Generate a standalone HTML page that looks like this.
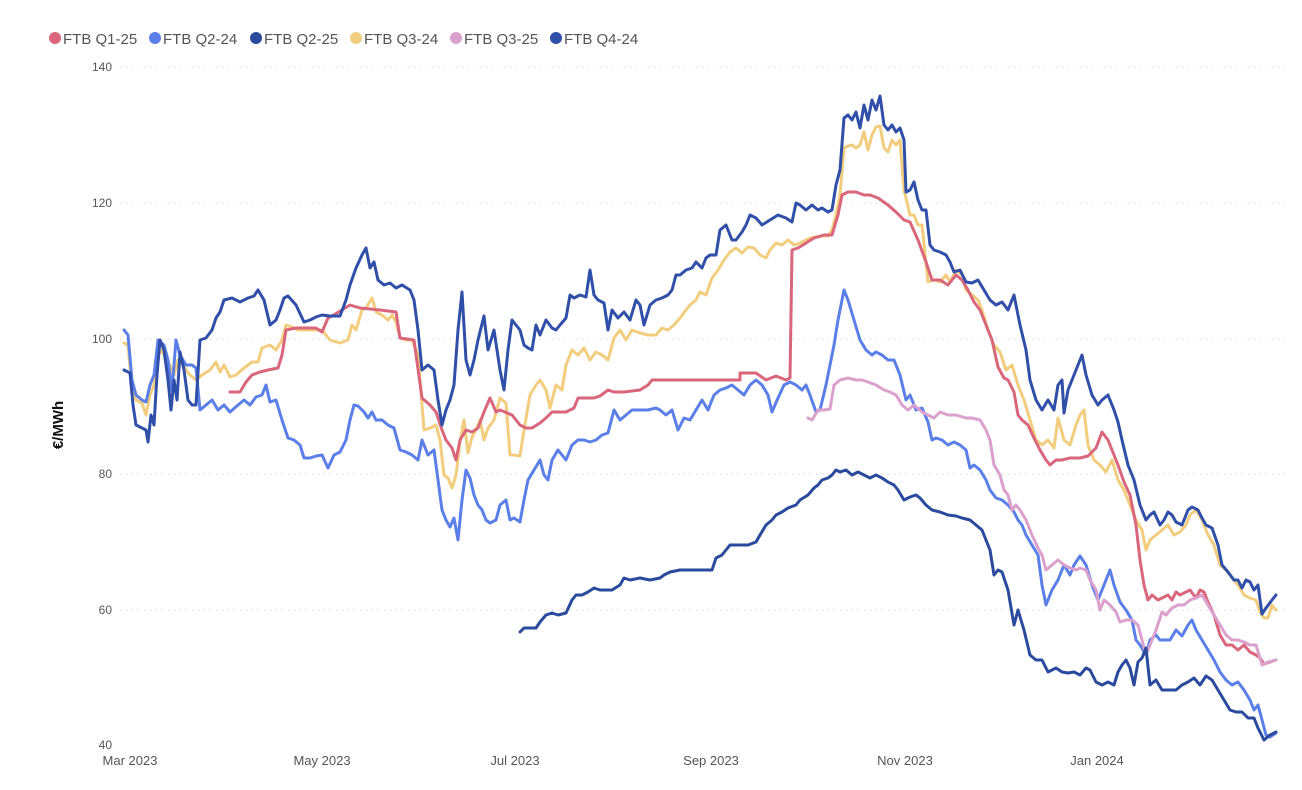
<!DOCTYPE html>
<html><head><meta charset="utf-8"><style>
body{margin:0;background:#fff;}
svg{display:block;font-family:"Segoe UI","Liberation Sans",sans-serif;}
</style></head><body>
<svg width="1302" height="790" viewBox="0 0 1302 790" xmlns="http://www.w3.org/2000/svg">
<g font-size="15" fill="#555">
<circle cx="55" cy="38" r="6" fill="#D9667A"/><text x="63" y="44">FTB Q1-25</text>
<circle cx="155" cy="38" r="6" fill="#5B7FE8"/><text x="163" y="44">FTB Q2-24</text>
<circle cx="256" cy="38" r="6" fill="#2A4A9E"/><text x="264" y="44">FTB Q2-25</text>
<circle cx="356" cy="38" r="6" fill="#F3CD7E"/><text x="364" y="44">FTB Q3-24</text>
<circle cx="456" cy="38" r="6" fill="#DBA0CC"/><text x="464" y="44">FTB Q3-25</text>
<circle cx="556" cy="38" r="6" fill="#2F4FA8"/><text x="564" y="44">FTB Q4-24</text>
</g>
<g stroke="#ccc" stroke-dasharray="1,5" stroke-width="1">
<line x1="120" x2="1285" y1="67" y2="67"/><line x1="120" x2="1285" y1="203" y2="203"/>
<line x1="120" x2="1285" y1="339" y2="339"/><line x1="120" x2="1285" y1="474" y2="474"/>
<line x1="120" x2="1285" y1="610" y2="610"/>
</g>
<g font-size="12" fill="#555" text-anchor="end">
<text x="112" y="71">140</text><text x="112" y="207">120</text><text x="112" y="343">100</text>
<text x="112" y="478">80</text><text x="112" y="614">60</text><text x="112" y="749">40</text>
</g>
<text transform="translate(63,425) rotate(-90)" font-size="15" font-weight="bold" text-anchor="middle" fill="#111">€/MWh</text>
<g font-size="13" fill="#555" text-anchor="middle">
<text x="130" y="765">Mar 2023</text><text x="322" y="765">May 2023</text><text x="515" y="765">Jul 2023</text>
<text x="711" y="765">Sep 2023</text><text x="905" y="765">Nov 2023</text><text x="1097" y="765">Jan 2024</text>
</g>
<g fill="none" stroke-width="3" stroke-linejoin="round" stroke-linecap="round">
<polyline stroke="#F3CD7E" points="124,343 128,345 132,390 136,400 142,403 146,415 150,395 154,385 158,355 162,350 166,360 170,365 174,375 178,360 182,360 186,370 190,375 196,380 202,375 210,370 216,362 220,372 224,365 230,377 236,375 244,368 252,362 258,362 262,348 270,345 276,350 282,340 286,325 292,327 298,330 304,330 310,330 316,330 322,330 330,340 340,343 348,340 352,325 356,330 362,310 366,308 372,298 376,312 382,315 388,320 392,315 396,322 400,338 406,340 412,340 418,355 424,430 430,428 436,425 440,440 444,475 448,478 452,488 456,475 460,442 464,420 468,453 472,437 476,430 480,420 484,440 488,428 494,420 500,398 506,403 510,455 514,455 520,456 524,430 530,395 536,385 540,380 546,390 550,408 556,385 562,390 566,365 572,350 578,355 584,348 590,360 596,352 602,355 608,360 614,338 620,330 626,340 632,330 640,333 648,335 656,335 662,328 668,330 674,325 680,318 686,310 690,305 696,300 700,292 706,295 712,278 718,270 724,260 730,252 736,248 742,253 748,247 754,248 760,255 766,258 770,250 776,243 782,245 788,240 794,245 800,243 806,240 810,238 816,237 822,236 828,236 832,230 836,215 840,195 844,148 848,146 852,145 856,148 860,145 864,132 868,150 872,135 876,127 880,126 884,148 888,152 892,140 896,145 900,140 904,190 910,215 914,215 918,225 922,225 928,282 934,280 940,282 946,275 950,282 956,270 962,275 966,290 972,295 978,300 982,310 988,330 994,345 1000,352 1006,370 1012,365 1018,385 1024,400 1030,420 1036,440 1042,445 1048,440 1054,448 1058,418 1064,440 1070,445 1076,425 1080,415 1084,410 1088,445 1094,460 1100,465 1106,472 1112,460 1118,480 1124,490 1130,505 1136,520 1142,530 1146,550 1150,540 1156,535 1162,530 1168,525 1174,535 1180,532 1186,525 1190,515 1196,510 1202,520 1208,535 1214,545 1220,565 1226,570 1232,578 1238,585 1244,595 1250,598 1256,600 1260,612 1264,618 1268,618 1272,605 1276,610"/>
<polyline stroke="#D9667A" points="230,392 240,392 246,382 252,375 260,372 268,370 278,368 282,355 286,330 296,328 306,328 316,328 322,332 328,318 332,316 350,305 360,308 380,310 396,312 400,338 414,340 422,398 430,405 436,412 442,430 446,440 452,448 456,460 460,440 466,430 472,432 478,428 484,412 490,398 496,412 500,410 512,415 520,425 526,428 532,428 540,423 546,418 552,412 566,412 574,408 578,398 594,398 600,396 608,390 614,392 624,392 640,390 648,385 652,380 660,380 740,380 740,373 756,373 766,380 776,376 786,380 790,378 792,250 798,248 806,243 814,238 824,235 832,235 838,215 842,195 848,192 856,192 864,195 870,195 878,198 888,205 896,212 904,220 910,222 918,240 926,262 932,280 940,280 948,285 956,275 962,280 968,290 974,302 980,310 986,325 992,340 998,367 1004,378 1008,380 1014,392 1018,415 1022,420 1028,425 1034,438 1040,450 1046,460 1050,465 1056,460 1062,460 1070,458 1080,458 1088,456 1096,448 1102,432 1108,440 1114,455 1118,465 1124,482 1130,495 1136,525 1140,560 1144,585 1148,600 1152,595 1158,600 1162,598 1168,595 1172,600 1176,592 1180,595 1186,592 1190,590 1196,598 1200,590 1204,592 1208,602 1214,615 1220,635 1226,645 1232,645 1238,650 1244,645 1250,652 1256,655 1260,658 1264,664 1270,662 1276,660"/>
<polyline stroke="#5B7FE8" points="124,330 128,335 132,380 136,395 142,400 146,402 150,385 154,375 158,340 164,345 168,360 172,390 176,340 180,355 186,365 192,365 196,368 200,410 206,405 212,400 218,410 224,405 230,412 238,405 244,400 250,405 256,397 262,395 266,385 270,402 276,400 282,420 288,438 294,440 300,445 304,458 310,458 316,456 322,455 328,468 334,455 340,452 346,440 350,420 354,405 358,406 364,412 368,418 372,412 376,420 382,420 388,425 394,428 400,450 406,452 412,455 418,460 422,440 428,455 434,450 438,480 442,510 446,520 450,527 454,518 458,540 462,500 466,470 470,478 474,495 478,505 482,510 486,520 490,523 496,520 500,505 506,500 510,520 514,518 520,522 524,500 528,480 534,470 540,460 544,475 548,480 552,460 558,450 566,460 572,445 578,440 584,440 590,442 596,440 602,435 608,433 614,410 620,420 626,415 632,410 640,410 648,410 656,408 660,410 666,415 672,410 678,430 684,418 690,420 696,410 702,400 708,410 714,395 720,390 726,388 732,385 738,390 744,395 750,385 756,380 762,385 768,395 772,412 778,398 784,385 790,382 796,385 802,390 806,385 810,395 816,412 820,410 826,385 830,365 834,345 838,320 844,290 848,300 854,320 860,340 866,350 872,355 876,352 882,355 888,360 894,360 900,375 906,400 910,395 916,410 922,408 928,422 932,440 936,438 942,440 948,445 954,442 960,445 966,450 970,468 974,465 980,470 986,480 990,490 996,498 1002,500 1008,505 1014,512 1018,520 1022,525 1026,535 1032,545 1038,555 1042,585 1046,605 1052,590 1058,580 1064,565 1070,575 1074,565 1080,556 1086,565 1092,585 1098,600 1102,590 1106,580 1110,570 1114,585 1120,602 1126,610 1132,620 1136,640 1140,645 1146,655 1150,640 1156,635 1160,640 1166,640 1170,640 1176,630 1182,636 1188,625 1192,620 1196,630 1202,640 1208,650 1214,660 1220,672 1226,680 1232,685 1238,682 1244,690 1250,700 1254,710 1258,705 1262,720 1266,735 1270,737 1276,733"/>
<polyline stroke="#DBA0CC" points="808,418 812,420 818,410 824,410 830,409 834,385 840,380 848,378 856,380 862,380 868,382 876,385 884,390 890,392 896,395 902,405 908,410 914,405 922,412 928,415 934,418 940,412 948,415 956,415 966,418 972,418 980,420 986,430 990,440 994,465 1000,475 1004,490 1008,495 1012,510 1016,505 1020,510 1026,520 1032,535 1038,548 1042,555 1046,570 1052,565 1058,560 1064,565 1070,568 1076,570 1080,568 1086,570 1090,580 1096,590 1100,610 1104,600 1110,605 1116,612 1120,622 1126,620 1132,620 1138,625 1142,640 1146,655 1150,645 1156,630 1162,612 1166,615 1172,608 1178,605 1184,605 1190,600 1196,598 1202,595 1208,605 1214,615 1220,625 1226,635 1232,640 1238,640 1244,642 1250,645 1256,645 1262,665 1268,662 1276,660"/>
<polyline stroke="#2A4A9E" points="520,632 524,628 530,628 536,628 540,622 546,615 552,613 558,615 566,613 572,600 576,595 582,595 588,592 594,588 600,590 612,590 620,585 624,578 630,580 640,578 650,580 660,578 664,575 670,572 680,570 712,570 716,558 722,555 730,545 748,545 756,542 760,535 766,525 772,520 776,515 782,512 788,508 796,505 800,500 808,495 814,488 818,485 822,480 828,478 832,475 836,470 840,472 846,470 852,475 858,472 864,475 870,478 876,475 882,478 888,482 894,485 898,490 904,500 910,497 916,495 920,498 926,505 932,510 940,512 948,515 956,516 962,518 970,520 976,525 982,530 986,540 990,550 994,575 998,570 1002,572 1008,590 1014,625 1018,610 1024,630 1030,655 1036,660 1042,660 1048,672 1056,668 1062,672 1068,673 1074,672 1080,675 1086,668 1090,670 1096,682 1102,685 1108,682 1114,685 1118,672 1122,665 1126,660 1130,668 1134,685 1138,662 1142,658 1146,648 1150,685 1156,680 1162,690 1176,690 1182,685 1188,682 1194,678 1200,685 1206,676 1212,680 1218,690 1224,700 1230,710 1236,712 1242,712 1248,718 1254,718 1258,728 1264,740 1270,735 1276,732"/>
<polyline stroke="#2F4FA8" points="124,370 130,373 133,405 136,425 142,428 146,430 148,442 151,415 154,425 157,375 160,340 164,350 168,380 171,410 174,380 177,400 180,352 184,370 188,400 192,405 196,405 200,340 206,338 212,330 216,318 220,312 224,300 232,298 240,302 248,298 254,296 258,290 264,300 270,325 276,320 280,310 284,298 288,296 296,305 304,322 310,320 316,317 322,315 330,316 340,316 346,300 350,285 356,268 362,255 366,248 370,268 374,262 378,280 384,285 390,283 396,288 402,285 410,290 414,300 418,330 422,370 428,365 434,370 438,400 442,425 446,410 450,400 454,385 458,330 462,292 466,360 470,375 474,360 478,340 484,316 488,350 494,330 500,370 504,390 508,350 512,320 516,325 520,330 524,345 528,348 532,350 536,325 540,335 546,320 552,328 556,330 560,325 566,318 570,295 574,298 580,295 586,297 590,270 594,295 598,300 604,303 608,330 612,310 618,318 624,312 630,320 636,300 640,305 644,325 650,305 656,300 662,298 668,295 672,290 676,275 680,275 686,270 692,268 696,262 702,268 706,258 710,255 716,255 720,230 726,225 732,240 736,240 742,232 746,225 750,215 756,218 762,225 770,220 778,215 786,218 792,222 796,203 800,205 806,210 812,205 818,210 822,208 828,212 832,210 836,185 840,170 844,118 848,115 852,120 856,112 860,128 864,105 868,120 872,100 876,110 880,96 884,125 888,130 892,125 896,132 900,128 904,140 906,192 910,190 914,182 918,200 922,210 926,210 930,245 934,250 940,252 946,255 950,262 954,272 960,270 966,282 972,283 978,280 984,290 990,300 996,305 1002,302 1008,310 1014,295 1020,325 1026,350 1030,380 1036,400 1042,410 1048,400 1054,410 1058,385 1062,380 1064,413 1068,390 1074,375 1078,365 1082,355 1086,375 1092,395 1098,405 1102,400 1108,395 1114,410 1118,422 1122,440 1128,465 1134,480 1140,505 1146,520 1150,515 1154,512 1160,525 1164,520 1168,512 1172,515 1176,522 1182,525 1188,510 1192,507 1198,510 1202,518 1206,525 1212,528 1218,545 1222,565 1228,572 1234,580 1238,580 1242,588 1246,580 1250,582 1254,590 1258,585 1262,614 1266,608 1272,600 1276,595"/>
</g>
</svg>
</body></html>
